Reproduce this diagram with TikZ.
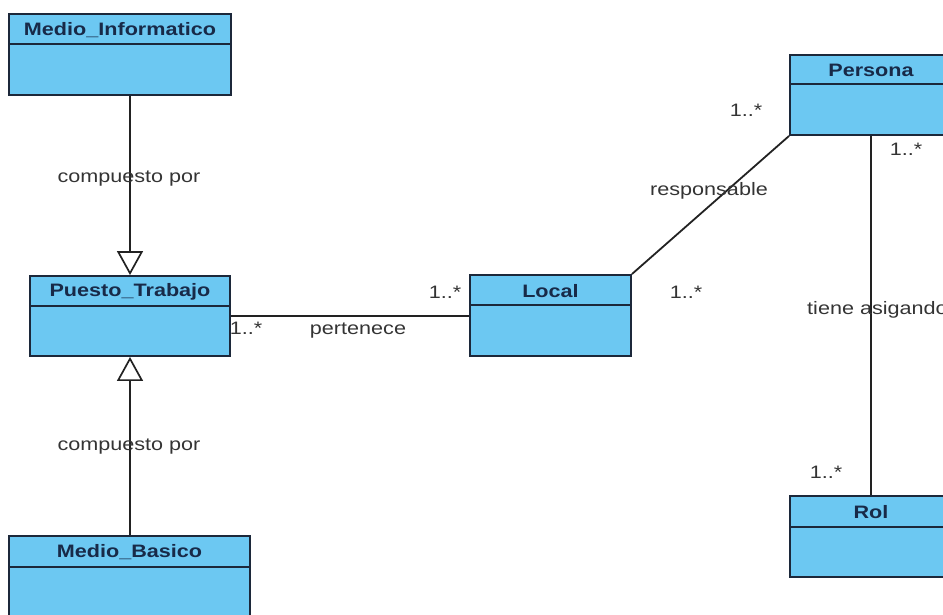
\documentclass[tikz,border=0pt]{standalone}
\usepackage{fontspec}
\setmainfont[FakeStretch=1.2]{Liberation Sans}
\usetikzlibrary{arrows.meta}

\definecolor{classfill}{RGB}{108,200,242}
\definecolor{classedge}{RGB}{28,40,58}
\definecolor{classtitle}{RGB}{24,42,72}
\definecolor{linkcol}{RGB}{34,34,34}
\definecolor{labelcol}{RGB}{52,52,52}

\tikzset{
  classbox/.style={draw=classedge, fill=classfill, line width=1.9pt,
    rectangle, inner sep=0pt},
  classname/.style={font=\bfseries\fontsize{18}{20}\selectfont,
    text=classtitle, inner sep=0pt},
  divider/.style={draw=classedge, line width=1.9pt},
  assoc/.style={draw=linkcol, line width=1.8pt},
  generalize/.style={assoc, -{Triangle[open, length=24pt, width=26pt, line width=1.7pt]}},
  lbl/.style={font=\fontsize{18}{20}\selectfont, text=labelcol, inner sep=0pt},
}

% \umlclass{name}{left}{top}{right}{bottom}{divider}{title}  (y grows downward)
\newcommand{\umlclass}[7]{%
  \node[classbox, minimum width={(#4-#2)*1pt}, minimum height={(#5-#3)*1pt}]
    (#1) at ({(#2+#4)/2}, {(#3+#5)/2}) {};
  \draw[divider] (#2, #6) -- (#4, #6);
  \node[classname] (#1-title) at ({(#2+#4)/2}, {(#3+#6)/2+1}) {#7};
}

\begin{document}
\begin{tikzpicture}[x=1pt, y=-1pt]
  \useasboundingbox (0,0) rectangle (943,614);
  \clip (0,0) rectangle (943,614);

  % classes
  \umlclass{mi}{9}{14}{231}{95}{44}{Medio\_Informatico}
  \umlclass{pt}{30}{276}{230}{356}{306}{Puesto\_Trabajo}
  \umlclass{mb}{9}{536}{250}{617}{567}{Medio\_Basico}
  \umlclass{lo}{470}{275}{631}{356}{305}{Local}
  \umlclass{pe}{790}{55}{952}{135}{84}{Persona}
  \umlclass{ro}{790}{496}{952}{577}{527}{Rol}

  % generalizations (vertical, aligned on Puesto_Trabajo)
  \draw[generalize] (pt.north |- mi.south) -- (pt.north);
  \draw[generalize] (pt.south |- mb.north) -- (pt.south);

  % associations
  \draw[assoc] (pt.east) -- (pt.east -| lo.west);
  \draw[assoc] (lo.north east) -- (pe.south west);
  \draw[assoc] (pe.south) -- (ro.north);

  % labels
  \node[lbl] (l1) at (129,179) {compuesto por};
  \node[lbl] (l2) at (129,447) {compuesto por};
  \node[lbl] (m1) at (246,328) {1..*};
  \node[lbl] (l3) at (358,331) {pertenece};
  \node[lbl] (m2) at (445,292) {1..*};
  \node[lbl] (m3) at (686,292) {1..*};
  \node[lbl] (l4) at (709,191) {responsable};
  \node[lbl] (m4) at (746,110) {1..*};
  \node[lbl] (m5) at (906,149) {1..*};
  \node[lbl, anchor=west] (l5) at (807,310) {tiene asigando};
  \node[lbl] (m6) at (826,472) {1..*};
\end{tikzpicture}
\end{document}
